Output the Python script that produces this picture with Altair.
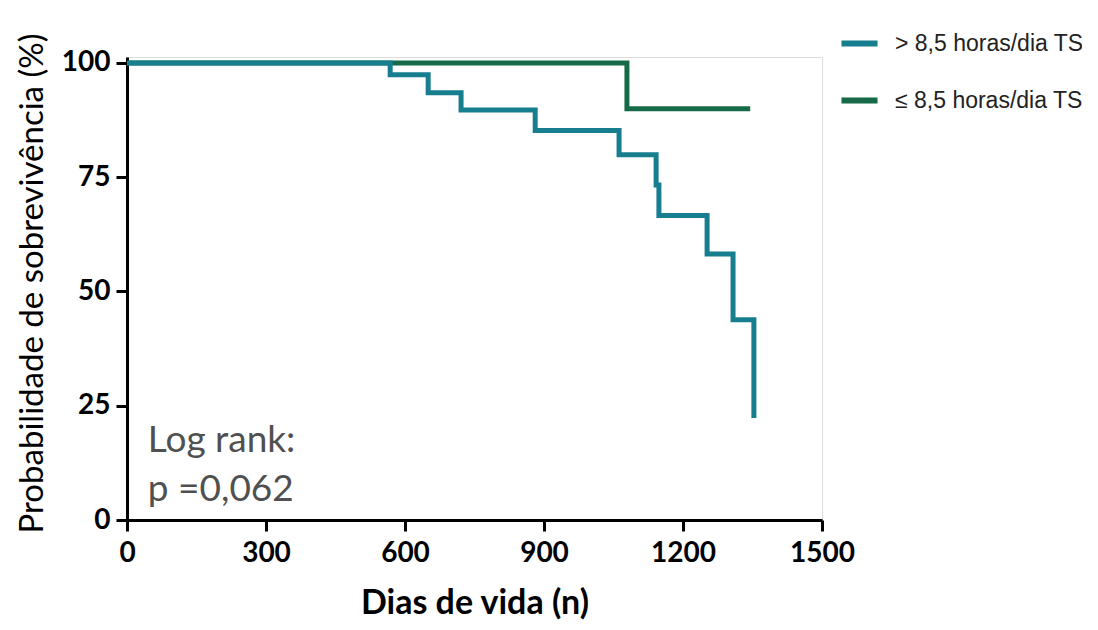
import altair as alt
import pandas as pd

# Kaplan-Meier step curves (days, survival %)
grp_hi = "> 8,5 horas/dia TS"
grp_lo = "≤ 8,5 horas/dia TS"

hi_days = [0, 568, 650, 721, 881, 1062, 1142, 1148, 1252, 1308, 1353]
hi_surv = [100, 97.4, 93.5, 89.7, 85.2, 79.9, 73.3, 66.6, 58.2, 43.8, 22.3]

lo_days = [0, 1079, 1345]
lo_surv = [100, 90.0, 90.0]

x_ticks = [0, 300, 600, 900, 1200, 1500]
y_ticks = [0, 25, 50, 75, 100]

ann_text = ["Log rank:", "p =0,062"]
ann_x = [45, 45]
ann_y = [14.9, 4.2]

hi_df = pd.DataFrame({"dias": hi_days, "surv": hi_surv, "grupo": grp_hi})
lo_df = pd.DataFrame({"dias": lo_days, "surv": lo_surv, "grupo": grp_lo})
ann_df = pd.DataFrame({"t": ann_text, "x": ann_x, "y": ann_y})

teal = "#177e90"
green = "#176a47"

x_enc = alt.X(
    "dias:Q",
    scale=alt.Scale(domain=[0, 1500], nice=False),
    axis=alt.Axis(
        values=x_ticks, format="d", title="Dias de vida (n)", grid=False,
        domainColor="black", domainWidth=3, tickColor="black", tickWidth=3,
        tickSize=11, labelFont="Lato", labelFontSize=28, labelFontWeight="bold",
        labelColor="black", labelPadding=8, labelFlush=False,
        titleFont="Lato", titleFontSize=34, titleFontWeight="bold",
        titleColor="black", titleY=93, titleBaseline="alphabetic",
    ),
)
y_enc = alt.Y(
    "surv:Q",
    scale=alt.Scale(domain=[0, 101.3], nice=False),
    axis=alt.Axis(
        values=y_ticks, title="Probabilidade de sobrevivência (%)", grid=False,
        domainColor="black", domainWidth=3, tickColor="black", tickWidth=3,
        tickSize=11, labelFont="Lato", labelFontSize=28, labelFontWeight="bold",
        labelColor="black", labelPadding=6, labelFlush=False,
        titleFont="Lato", titleFontSize=33, titleFontWeight="normal",
        titleColor="black", titleX=-85, titleY=226, titleBaseline="alphabetic",
    ),
)
color_enc = alt.Color(
    "grupo:N",
    scale=alt.Scale(domain=[grp_hi, grp_lo], range=[teal, green]),
    legend=alt.Legend(
        title=None, orient="none", legendX=711, legendY=-35,
        symbolType="stroke", symbolStrokeWidth=6, symbolSize=1300,
        labelFont="Liberation Sans", labelFontSize=23, labelColor="#222",
        labelOffset=14, rowPadding=23, labelLimit=400,
    ),
)

lo_line = alt.Chart(lo_df).mark_line(interpolate="step-after", strokeWidth=5).encode(
    x=x_enc, y=y_enc, color=color_enc
)
hi_line = alt.Chart(hi_df).mark_line(interpolate="step-after", strokeWidth=5).encode(
    x=x_enc, y=y_enc, color=color_enc
)
ann = alt.Chart(ann_df).mark_text(
    align="left", baseline="alphabetic", font="Lato", fontSize=37, color="#505050"
).encode(x="x:Q", y="y:Q", text="t:N")

chart = (
    alt.layer(lo_line, hi_line, ann)
    .properties(
        width=695, height=463,
        autosize=alt.AutoSizeParams(type="none"),
        padding={"left": 119, "top": 49, "right": 260, "bottom": 102},
    )
    .configure_view(strokeWidth=0)
    .configure(background="white")
)

chart.save("out.html", embed_options={"renderer": "svg", "actions": False})
